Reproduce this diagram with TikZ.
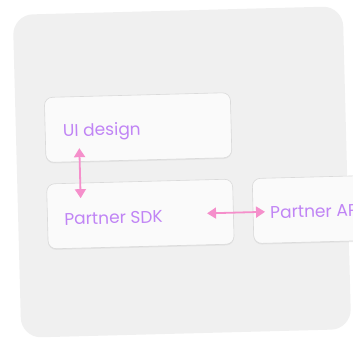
\documentclass[tikz,border=0pt]{standalone}
\usepackage{fontspec}
\setmainfont{Poppins}
\usetikzlibrary{arrows.meta,shadows}
\definecolor{bgpanel}{HTML}{F0F0F0}
\definecolor{cardfill}{HTML}{FAFAFA}
\definecolor{cardline}{HTML}{DADADA}
\definecolor{labelpurple}{HTML}{C084F5}
\definecolor{arrowpink}{HTML}{F58FCB}
\tikzset{
  card/.style={draw=cardline, line width=0.6pt, fill=cardfill, rounded corners=8pt,
    minimum width=186pt, minimum height=65pt, inner sep=0pt,
    drop shadow={opacity=0.10, shadow xshift=0pt, shadow yshift=-1.2pt}},
  cardtext/.style={anchor=west, text=labelpurple, font=\fontsize{17}{19}\selectfont, inner sep=0pt},
  link/.style={draw=arrowpink, line width=1.8pt, {Triangle[length=9pt,width=11pt]}-{Triangle[length=9pt,width=11pt]}}
}
\begin{document}
\begin{tikzpicture}[x=1pt,y=-1pt]
\useasboundingbox (0,0) rectangle (353,339);
\fill[white] (0,0) rectangle (353,339);
\clip (0,0) rectangle (353,339);
\begin{scope}[rotate around={1.5:(182,172)}, transform shape]
  \node[fill=bgpanel, rounded corners=20pt, minimum width=330pt, minimum height=323pt, inner sep=0pt] (panel) at (182,172) {};
  \node[card] (ui) at (139.3,126.4) {};
  \node[card] (sdk) at (139.3,212.9) {};
  \node[card] (api) at (345,212.9) {};
  \node[cardtext] (uit) at (64,129.5) {UI design};
  \node[cardtext] (sdkt) at (63,216) {Partner SDK};
  \node[cardtext] (apit) at (269,215) {Partner API};
  \coordinate (v1) at (80,145.5);
  \coordinate (v2) at (80,195.5);
  \coordinate (h1) at (206,214);
  \coordinate (h2) at (264,214);
  \draw[link] (v1) -- (v2);
  \draw[link] (h1) -- (h2);
\end{scope}
\end{tikzpicture}
\end{document}
